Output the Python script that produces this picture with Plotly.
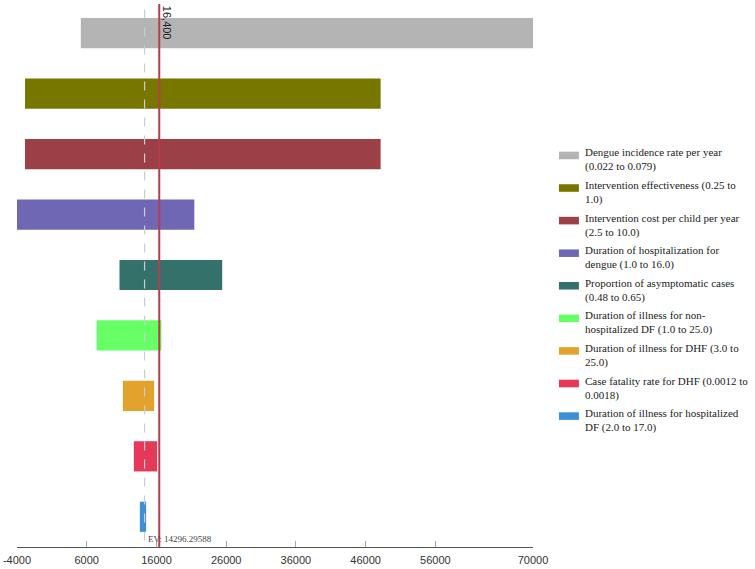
import plotly.graph_objects as go

# ---- data ----
params = [
    "Dengue incidence rate per year (0.022 to 0.079)",
    "Intervention effectiveness (0.25 to 1.0)",
    "Intervention cost per child per year (2.5 to 10.0)",
    "Duration of hospitalization for dengue (1.0 to 16.0)",
    "Proportion of asymptomatic cases (0.48 to 0.65)",
    "Duration of illness for non-hospitalized DF (1.0 to 25.0)",
    "Duration of illness for DHF (3.0 to 25.0)",
    "Case fatality rate for DHF (0.0012 to 0.0018)",
    "Duration of illness for hospitalized DF (2.0 to 17.0)",
]
legend_lines = [
    "Dengue incidence rate per year<br>(0.022 to 0.079)",
    "Intervention effectiveness (0.25 to<br>1.0)",
    "Intervention cost per child per year<br>(2.5 to 10.0)",
    "Duration of hospitalization for<br>dengue (1.0 to 16.0)",
    "Proportion of asymptomatic cases<br>(0.48 to 0.65)",
    "Duration of illness for non-<br>hospitalized DF (1.0 to 25.0)",
    "Duration of illness for DHF (3.0 to<br>25.0)",
    "Case fatality rate for DHF (0.0012 to<br>0.0018)",
    "Duration of illness for hospitalized<br>DF (2.0 to 17.0)",
]
low_vals = [5150, -2850, -2850, -4000, 10700, 7430, 11190, 12760, 13620]
high_vals = [70000, 48150, 48150, 21430, 25430, 16710, 15670, 16100, 14520]
colors = ["#b4b4b4", "#777700", "#9a4046", "#6f67b3", "#35716b",
          "#66ff66", "#e2a22c", "#e8385a", "#3d8fd6"]
ev_value = 14296.29588
threshold = 16400
tick_vals = [-4000, 6000, 16000, 26000, 36000, 46000, 56000, 70000]
tick_text = ["-4000", "6000", "16000", "26000", "36000", "46000", "56000", "70000"]

fig = go.Figure()
for i, (lo, hi, c, name) in enumerate(zip(low_vals, high_vals, colors, params)):
    fig.add_trace(go.Bar(
        y=[i], x=[hi - lo], base=[lo], orientation="h",
        marker=dict(color=c, line=dict(width=0)),
        width=0.5, name=name, showlegend=False, hoverinfo="skip",
    ))

# EV dashed line and threshold line
fig.add_shape(type="line", xref="x", yref="paper", x0=ev_value, x1=ev_value,
              y0=0.012, y1=1.0, line=dict(color="#cccccc", width=1.2, dash="dash"))
fig.add_shape(type="line", xref="x", yref="paper", x0=threshold, x1=threshold,
              y0=0, y1=0.998, line=dict(color="#c0394a", width=2))

fig.add_annotation(x=ev_value, y=0.0, xref="x", yref="paper", text="EV: %.5f" % ev_value,
                   showarrow=False, xanchor="left", yanchor="bottom", xshift=1, yshift=1,
                   font=dict(family="Liberation Serif", size=9, color="#444444"))
fig.add_annotation(x=threshold, y=0.998, xref="x", yref="paper", text="16,400",
                   showarrow=False, textangle=90, xanchor="left", yanchor="top", xshift=0,
                   font=dict(family="Liberation Sans", size=11, color="#222222"))

# manual legend
W, H = 755, 569
for i, (txt, c) in enumerate(zip(legend_lines, colors)):
    yc = 156 + 32.7 * i
    fig.add_shape(type="rect", xref="paper", yref="paper",
                  x0=(559 - 16) / 517, x1=(579 - 16) / 517,
                  y0=(549 - (yc + 3.8)) / 546, y1=(549 - (yc - 3.8)) / 546,
                  fillcolor=c, line=dict(width=0))
    fig.add_annotation(xref="paper", yref="paper", x=(583 - 16) / 517,
                       y=(549 - (yc - 11)) / 546, text=txt, showarrow=False,
                       xanchor="left", yanchor="top", align="left",
                       font=dict(family="Liberation Serif", size=11, color="#222222"))

fig.update_layout(
    width=W, height=H,
    margin=dict(l=16, r=222, t=3, b=20),
    paper_bgcolor="white", plot_bgcolor="white",
    barmode="overlay",
    showlegend=False,
    xaxis=dict(range=[-4000, 70000], tickvals=tick_vals, ticktext=tick_text,
               showgrid=False, zeroline=False, showline=True, linecolor="#555555",
               linewidth=1, ticks="inside", ticklen=6, tickcolor="#aaaaaa",
               ticklabelstandoff=3,
               tickfont=dict(family="Liberation Sans", size=11, color="#333333")),
    yaxis=dict(range=[8.5, -0.5], visible=False, showgrid=False, zeroline=False),
)

fig.write_html("out.html", config={"displayModeBar": False},
               post_script="document.body.style.margin='0';document.body.style.overflow='hidden';")
